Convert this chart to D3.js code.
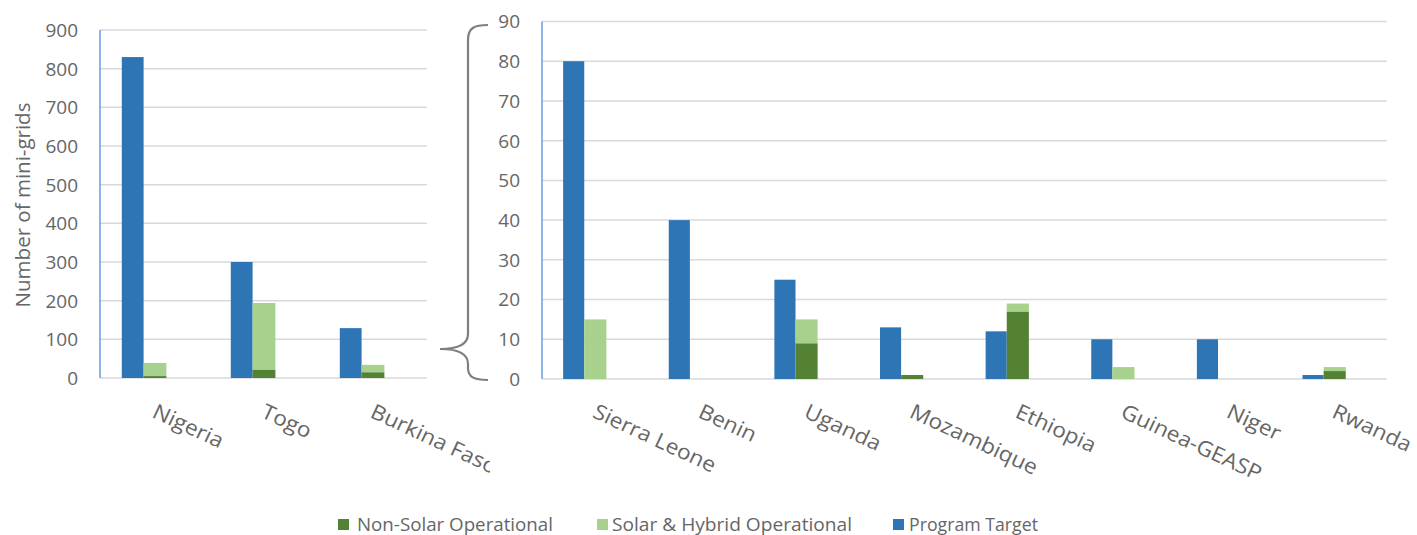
<!DOCTYPE html>
<html><head><meta charset="utf-8">
<script src="https://cdn.jsdelivr.net/npm/d3@7"></script>
<style>
body{margin:0;background:#fff;}
text{font-family:"Open Sans","Noto Sans",sans-serif;fill:#666666;}
</style></head>
<body><svg id="c" width="1417" height="535"></svg>
<script>
const leftCats = ["Nigeria","Togo","Burkina Faso"];
const leftTarget = [830,300,129];
const leftNonSolar = [5,22,15];
const leftSolar = [34,172,19];
const leftTicks = [0,100,200,300,400,500,600,700,800,900];

const rightCats = ["Sierra Leone","Benin","Uganda","Mozambique","Ethiopia","Guinea-GEASP","Niger","Rwanda"];
const rightTarget = [80,40,25,13,12,10,10,1];
const rightNonSolar = [0,0,9,1,17,0,0,2];
const rightSolar = [15,0,6,0,2,3,0,1];
const rightTicks = [0,10,20,30,40,50,60,70,80,90];

const seriesNames = ["Non-Solar Operational","Solar & Hybrid Operational","Program Target"];
const colors = {target:"#2e75b6", solar:"#a9d18e", non:"#548235"};

const svg = d3.select("#c");
svg.append("defs").append("clipPath").attr("id","clipL")
  .append("rect").attr("x",0).attr("y",0).attr("width",490).attr("height",535);

function panel(g, cats, target, non, solar, ticks, x0, x1, yTop, yBot, maxV){
  const x = d3.scaleBand().domain(cats).range([x0,x1]);
  const sub = d3.scaleBand().domain(["t","o","e"]).range([0,x.bandwidth()]).paddingOuter(1);
  const y = d3.scaleLinear().domain([0,maxV]).range([yBot,yTop]);
  g.append("g").selectAll("line").data(ticks).join("line")
    .attr("x1",x0).attr("x2",x1).attr("y1",d=>y(d)).attr("y2",d=>y(d))
    .attr("stroke","#d9d9d9").attr("stroke-width",1.5);
  g.append("g").selectAll("text").data(ticks).join("text")
    .attr("x",x0-22).attr("y",d=>y(d)).attr("dy","0.36em").attr("text-anchor","end")
    .style("font-size","19px").text(d=>d);
  const data = cats.map((c,i)=>({c, t:target[i], n:non[i], s:solar[i]}));
  const gb = g.append("g");
  gb.selectAll("rect.t").data(data).join("rect").attr("class","t")
    .attr("x",d=>x(d.c)+sub("t")).attr("width",sub.bandwidth())
    .attr("y",d=>y(d.t)).attr("height",d=>y(0)-y(d.t)).attr("fill",colors.target);
  gb.selectAll("rect.n").data(data).join("rect").attr("class","n")
    .attr("x",d=>x(d.c)+sub("o")).attr("width",sub.bandwidth()+1)
    .attr("y",d=>y(d.n)).attr("height",d=>y(0)-y(d.n)).attr("fill",colors.non);
  gb.selectAll("rect.s").data(data).join("rect").attr("class","s")
    .attr("x",d=>x(d.c)+sub("o")).attr("width",sub.bandwidth()+1)
    .attr("y",d=>y(d.n+d.s)).attr("height",d=>y(d.n)-y(d.n+d.s)).attr("fill",colors.solar);
  g.append("line").attr("x1",x0).attr("x2",x0).attr("y1",yTop).attr("y2",yBot)
    .attr("stroke","#6a9be0").attr("stroke-width",1.5);
  g.append("g").selectAll("text").data(cats).join("text")
    .attr("transform",d=>`translate(${x(d)+x.bandwidth()/2+3},403) rotate(25) scale(1.08,1)`)
    .attr("dy","0.72em").attr("text-anchor","start").style("font-size","21px").text(d=>d);
  return {x,y};
}

const gL = svg.append("g").attr("clip-path","url(#clipL)");
panel(gL, leftCats, leftTarget, leftNonSolar, leftSolar, leftTicks, 100, 427, 30, 378, 900);
const gR = svg.append("g");
panel(gR, rightCats, rightTarget, rightNonSolar, rightSolar, rightTicks, 542, 1387, 21.5, 379, 90);

svg.append("text").attr("transform","translate(30,205) rotate(-90)")
  .attr("text-anchor","middle").style("font-size","20.5px").text("Number of mini-grids");

svg.append("path")
  .attr("d","M488,25 C474,25 468,28 468,40 L468,334 C468,345 458,349 440,349 C458,349 468,353 468,364 L468,368 C468,377 474,380 488,380")
  .attr("fill","none").attr("stroke","#7f7f7f").attr("stroke-width",2.2);

const legCols = [colors.non, colors.solar, colors.target];
const legSq = [338, 597, 893];
const legTx = [357, 612, 909];
const legW = [196, 240, 129];
const lg = svg.append("g");
seriesNames.forEach((n,i)=>{
  lg.append("rect").attr("x",legSq[i]).attr("y",519).attr("width",11).attr("height",11).attr("fill",legCols[i]);
  lg.append("text").attr("x",legTx[i]).attr("y",525).attr("dy","0.36em")
    .attr("textLength",legW[i]).attr("lengthAdjust","spacingAndGlyphs").style("font-size","18px").text(n);
});
</script></body></html>
